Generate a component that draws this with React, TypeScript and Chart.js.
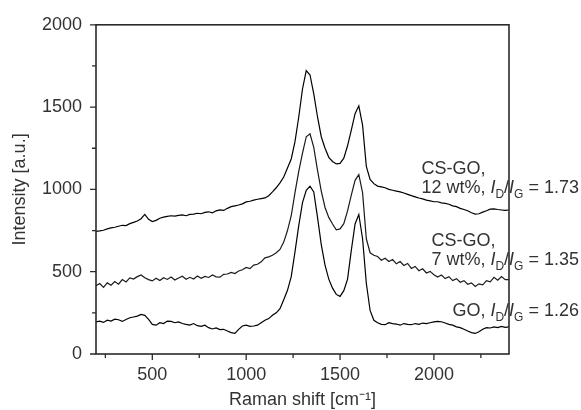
import React, { useEffect, useRef } from "react";
import { Chart, registerables } from "chart.js";

Chart.register(...registerables);

// Raman shift (cm^-1)
const ramanShift = [
  200, 220, 240, 260, 280, 300, 320, 340, 360, 380,
  400, 420, 440, 460, 480, 500, 520, 540, 560, 580,
  600, 620, 640, 660, 680, 700, 720, 740, 760, 780,
  800, 820, 840, 860, 880, 900, 920, 940, 960, 980,
  1000, 1020, 1040, 1060, 1080, 1100, 1120, 1140, 1160, 1180,
  1200, 1220, 1240, 1260, 1280, 1300, 1320, 1340, 1360, 1380,
  1400, 1420, 1440, 1460, 1480, 1500, 1520, 1540, 1560, 1580,
  1600, 1620, 1640, 1660, 1680, 1700, 1720, 1740, 1760, 1780,
  1800, 1820, 1840, 1860, 1880, 1900, 1920, 1940, 1960, 1980,
  2000, 2020, 2040, 2060, 2080, 2100, 2120, 2140, 2160, 2180,
  2200, 2220, 2240, 2260, 2280, 2300, 2320, 2340, 2360, 2380,
  2400,
];

// CS-GO, 12 wt%
const csgo12 = [
  745, 748, 752, 760, 766, 770, 776, 782, 780, 792,
  800, 808, 822, 848, 818, 805, 812, 825, 832, 836,
  840, 838, 842, 845, 840, 848, 850, 855, 852, 860,
  864, 858, 870, 875, 872, 885, 895, 900, 905, 912,
  924, 928, 935, 940, 944, 948, 962, 985, 1010, 1040,
  1075, 1130, 1185, 1290, 1440, 1610, 1722, 1695, 1580, 1440,
  1320, 1250, 1195, 1170, 1155, 1158, 1190, 1265, 1360, 1460,
  1508, 1390, 1140, 1060, 1035, 1020, 1015, 1010, 1000, 995,
  990, 985, 978, 970, 962, 955, 948, 942, 935, 930,
  925, 925, 918, 915, 910, 900, 895, 885, 878, 870,
  858, 850, 852, 862, 870, 880, 882, 878, 875, 872,
  875,
];

// CS-GO, 7 wt%
const csgo7 = [
  415, 428, 405, 432, 418, 440, 424, 452, 438, 462,
  455, 470, 480, 463, 452, 444, 460, 446, 463, 453,
  468, 450, 462, 472, 454, 466, 456, 474, 460, 471,
  465, 480, 469, 467, 484, 486, 496, 489, 504, 512,
  526, 519, 540, 545, 560, 584, 590, 600, 615, 635,
  680, 750, 840, 980, 1110, 1220, 1320, 1338, 1255, 1115,
  990, 890, 830, 790, 755, 760, 792, 870, 965, 1055,
  1090, 980, 700, 615, 600, 592, 570, 582, 562, 574,
  548, 562, 538, 550, 520, 532, 506, 518, 492, 502,
  482, 468, 480, 458, 470, 446, 458, 436, 446, 424,
  432, 410, 426, 420, 446, 438, 466, 448, 470, 452,
  452,
];

// GO
const go = [
  195, 200, 192, 205, 200, 212, 208, 198, 210, 220,
  225, 230, 240, 235, 210, 180, 175, 190, 185, 200,
  198, 190, 195, 185, 180, 176, 185, 172, 168, 175,
  160, 152, 158, 148, 150, 140, 130, 125, 150, 170,
  175, 168, 170, 175, 190, 205, 215, 235, 250, 275,
  330, 387, 470, 620, 780, 920, 995, 1020, 985, 830,
  665, 540, 455, 400, 362, 350, 385, 455, 630, 790,
  848, 700, 430, 265, 205, 190, 180, 178, 190, 185,
  182, 175, 185, 180, 178, 185, 180, 188, 185, 190,
  195, 198, 196, 188, 180, 175, 165, 160, 150, 140,
  130, 125, 135, 150, 160, 158, 165, 160, 168, 162,
  165,
];

const seriesNames = ["CS-GO, 12 wt%", "CS-GO, 7 wt%", "GO"];
const seriesValues = [csgo12, csgo7, go];

// axis ticks (major ones are labelled)
const xTicks = [250, 500, 750, 1000, 1250, 1500, 1750, 2000, 2250];
const xMajor = [500, 1000, 1500, 2000];
const yTicks = [0, 250, 500, 750, 1000, 1250, 1500, 1750, 2000];
const yMajor = [0, 500, 1000, 1500, 2000];

// annotation texts
const labelHeads = ["CS-GO,", "CS-GO,", ""];
const labelPrefixes = ["12 wt%, ", "7 wt%, ", "GO, "];
const labelRatios = ["1.73", "1.35", "1.26"];
// baseline of the last text line, in intensity units
const labelAnchors = [978, 538, 230];

const xTitle = "Raman shift [cm\u207B\u00B9]";
const yTitle = "Intensity [a.u.]";

const FONT = "'Liberation Sans', Arial, Helvetica, sans-serif";
const TEXT = "#333333";

const decorPlugin = {
  id: "decor",
  afterDraw(chart: any) {
    const { ctx, chartArea: a, scales } = chart;
    const xs = scales.x;
    const ys = scales.y;
    ctx.save();
    // frame
    ctx.strokeStyle = "#2a2a2a";
    ctx.lineWidth = 1.6;
    ctx.strokeRect(a.left, a.top, a.right - a.left, a.bottom - a.top);
    // ticks
    ctx.beginPath();
    ctx.lineWidth = 1.3;
    for (const t of xs.ticks) {
      const px = xs.getPixelForValue(t.value);
      const len = xMajor.includes(t.value) ? 6 : 4;
      ctx.moveTo(px, a.bottom);
      ctx.lineTo(px, a.bottom + len);
    }
    for (const t of ys.ticks) {
      const py = ys.getPixelForValue(t.value);
      const len = yMajor.includes(t.value) ? 6 : 4;
      ctx.moveTo(a.left, py);
      ctx.lineTo(a.left - len, py);
    }
    ctx.stroke();

    const main = `18px ${FONT}`;
    const ital = `italic 18px ${FONT}`;
    const sub = `12px ${FONT}`;
    ctx.fillStyle = TEXT;

    // x tick labels
    ctx.font = main;
    ctx.textAlign = "center";
    ctx.textBaseline = "alphabetic";
    for (const t of xs.ticks) {
      if (!xMajor.includes(t.value)) continue;
      ctx.fillText(String(t.value), xs.getPixelForValue(t.value), a.bottom + 26);
    }

    // annotations
    const rightX = a.right + 70;
    ctx.textAlign = "left";
    for (let i = 0; i < labelPrefixes.length; i++) {
      const parts = [
        { t: labelPrefixes[i], f: main, dy: 0 },
        { t: "I", f: ital, dy: 0 },
        { t: "D", f: sub, dy: 4.5 },
        { t: "/", f: main, dy: 0 },
        { t: "I", f: ital, dy: 0 },
        { t: "G", f: sub, dy: 4.5 },
        { t: " = " + labelRatios[i], f: main, dy: 0 },
      ];
      let w = 0;
      for (const p of parts) {
        ctx.font = p.f;
        w += ctx.measureText(p.t).width;
      }
      const base = ys.getPixelForValue(labelAnchors[i]);
      let x = rightX - w;
      const startX = x;
      for (const p of parts) {
        ctx.font = p.f;
        ctx.fillText(p.t, x, base + p.dy);
        x += ctx.measureText(p.t).width;
      }
      if (labelHeads[i]) {
        ctx.font = main;
        ctx.fillText(labelHeads[i], startX, base - 19);
      }
    }
    ctx.restore();
  },
};

export default function App() {
  const ref = useRef<HTMLCanvasElement | null>(null);

  useEffect(() => {
    if (!ref.current) return;
    const chart = new Chart(ref.current, {
      type: "line",
      data: {
        datasets: seriesValues.map((vals, i) => ({
          label: seriesNames[i],
          data: vals.map((v, j) => ({ x: ramanShift[j], y: v })),
          borderColor: i === 1 ? "#1a1a1a" : "#000000",
          borderWidth: 1.2,
          pointRadius: 0,
          tension: 0,
          fill: false,
        })),
      },
      options: {
        responsive: false,
        animation: false,
        layout: { padding: { left: 0, right: 72, top: 23, bottom: 0 } },
        plugins: {
          legend: { display: false },
          tooltip: { enabled: false },
        },
        scales: {
          x: {
            type: "linear",
            min: 200,
            max: 2400,
            grid: { display: false, drawTicks: false },
            border: { display: false },
            afterBuildTicks: (s: any) => {
              s.ticks = xTicks.map((v) => ({ value: v }));
            },
            afterFit: (s: any) => {
              s.height = 56;
            },
            ticks: {
              display: false,
              autoSkip: false,
              maxRotation: 0,
            },
            title: {
              display: true,
              text: xTitle,
              color: TEXT,
              font: { family: FONT, size: 18, lineHeight: 1 },
              padding: { top: 0, bottom: 1 },
            },
          },
          y: {
            type: "linear",
            min: 0,
            max: 2000,
            grid: { display: false, drawTicks: false },
            border: { display: false },
            afterBuildTicks: (s: any) => {
              s.ticks = yTicks.map((v) => ({ value: v }));
            },
            afterFit: (s: any) => {
              s.width = 96;
            },
            ticks: {
              autoSkip: false,
              padding: 14,
              color: TEXT,
              font: { family: FONT, size: 18 },
              callback: (v: any) => (yMajor.includes(Number(v)) ? String(v) : ""),
            },
            title: {
              display: true,
              text: yTitle,
              color: TEXT,
              font: { family: FONT, size: 18, lineHeight: 1 },
              padding: { top: 11, bottom: 0 },
            },
          },
        },
      },
      plugins: [decorPlugin],
    });
    return () => chart.destroy();
  }, []);

  return (
    <div style={{ position: "fixed", left: 0, top: 0, width: 581, height: 410, background: "#fff" }}>
      <canvas ref={ref} width={581} height={410} style={{ display: "block" }} />
    </div>
  );
}
